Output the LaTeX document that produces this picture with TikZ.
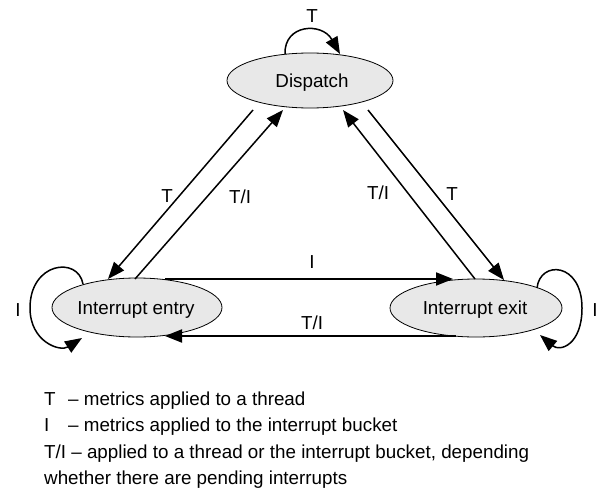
\documentclass[tikz,border=0pt]{standalone}
\usepackage{fontspec}
\setmainfont{Liberation Sans}
\usetikzlibrary{arrows.meta,shapes.geometric}
\begin{document}
\begin{tikzpicture}[x=1pt,y=-1pt,
  state/.style={ellipse, draw=black, line width=0.8pt, fill=gray!18, inner sep=0pt},
  lbl/.style={font=\fontsize{18.8}{22}\selectfont, inner sep=0pt},
  arr/.style={line width=1.5pt, -{Triangle[length=17pt,width=13pt]}},
  harr/.style={arr, line width=2pt},
  leg/.style={lbl, anchor=base west},
]
\useasboundingbox (0,0) rectangle (601,492);
% states
\node[state, minimum width=166pt, minimum height=55pt] (disp) at (310,80.5) {};
\node[lbl] (dispT) at (312,83) {Dispatch};
\node[state, minimum width=170pt, minimum height=59pt] (entry) at (137,307.5) {};
\node[lbl] (entryT) at (136,310) {Interrupt entry};
\node[state, minimum width=172pt, minimum height=58pt] (exit) at (476,308) {};
\node[lbl] (exitT) at (475,310) {Interrupt exit};
% endpoints
\coordinate (dA) at (253,110); \coordinate (eA) at (108,279);
\coordinate (eB) at (135,279); \coordinate (dB) at (283,110);
\coordinate (xA) at (475,279); \coordinate (dC) at (343,110);
\coordinate (dD) at (368,110); \coordinate (xB) at (504,280);
\coordinate (hA) at (165,279); \coordinate (hB) at (453,279);
\coordinate (hC) at (456,336); \coordinate (hD) at (165,336);
% diagonal connectors
\draw[arr] (dA) -- (eA);
\draw[arr] (eB) -- (dB);
\draw[arr] (xA) -- (dC);
\draw[arr] (dD) -- (xB);
% horizontal connectors
\draw[harr] (hA) -- (hB);
\draw[harr] (hC) -- (hD);
% loops
\coordinate (l1s) at (285,54); \coordinate (l1e) at (340,54);
\draw[arr] (l1s) .. controls (284,24) and (322,22) .. (l1e);
\coordinate (l2s) at (83,284); \coordinate (l2m) at (30,308); \coordinate (l2e) at (82,338);
\draw[arr] (l2s) .. controls (78,256) and (30,262) .. (l2m) .. controls (30,342) and (60,352) .. (l2e);
\coordinate (l3s) at (537,288); \coordinate (l3m) at (582,308); \coordinate (l3e) at (540,335);
\draw[arr] (l3s) .. controls (540,260) and (582,262) .. (l3m) .. controls (582,345) and (560,352) .. (l3e);
% labels
\node[lbl] (tl1) at (312,16) {T};
\node[lbl] (tl2) at (18,310) {I};
\node[lbl] (tl3) at (595,310) {I};
\node[lbl] (ldA) at (167,196) {T};
\node[lbl] (ldB) at (240,197) {T/I};
\node[lbl] (ldC) at (378,193) {T/I};
\node[lbl] (ldD) at (452,194) {T};
\node[lbl] (lhA) at (312,262) {I};
\node[lbl] (lhB) at (312,323) {T/I};
% legend
\node[leg] (g1a) at (44,405) {T};
\node[leg] (g1b) at (68,405) {– metrics applied to a thread};
\node[leg] (g2a) at (44,431.5) {I};
\node[leg] (g2b) at (68,431.5) {– metrics applied to the interrupt bucket};
\node[leg] (g3) at (44,458) {T/I – applied to a thread or the interrupt bucket, depending};
\node[leg] (g4) at (44,484) {whether there are pending interrupts};
\end{tikzpicture}
\end{document}
